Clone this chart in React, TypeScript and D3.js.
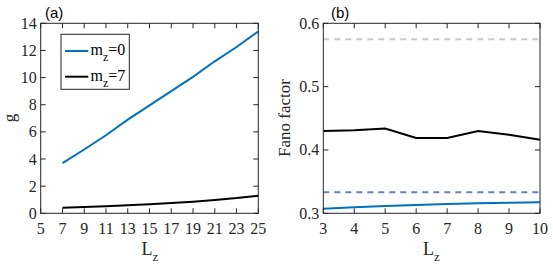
import React from "react";
import * as d3 from "d3";

const W = 553, H = 270;

// Panel (a)
const Lz_a = [7, 9, 11, 13, 15, 17, 19, 21, 23, 25];
const g_m0 = [3.7, 4.7, 5.75, 6.9, 7.95, 9.0, 10.05, 11.2, 12.25, 13.4];
const g_m7 = [0.4, 0.46, 0.52, 0.59, 0.67, 0.76, 0.86, 0.98, 1.12, 1.3];
const xTicksA = [5, 7, 9, 11, 13, 15, 17, 19, 21, 23, 25];
const yTicksA = [0, 2, 4, 6, 8, 10, 12, 14];

// Panel (b)
const Lz_b = [3, 4, 5, 6, 7, 8, 9, 10];
const fano_m7 = [0.430, 0.431, 0.434, 0.419, 0.419, 0.430, 0.424, 0.416];
const fano_m0 = [0.307, 0.3095, 0.3115, 0.313, 0.3145, 0.3157, 0.3167, 0.3175];
const refGray = 0.575;
const refBlue = 1 / 3;
const xTicksB = [3, 4, 5, 6, 7, 8, 9, 10];
const yTicksB = [0.3, 0.4, 0.5, 0.6];

const AX = "#262626";
const BLUE = "#0072BD";
const SERIF = "'Liberation Serif', 'Times New Roman', serif";
const SANS = "'Liberation Sans', Arial, sans-serif";
const TL = 5;

function Frame({ x, y, xTicks, yTicks, xFmt, yFmt }: any) {
  const [x0, x1] = x.range();
  const [y0, y1] = y.range();
  return (
    <g>
      <rect x={x0} y={y1} width={x1 - x0} height={y0 - y1} fill="none" stroke={AX} strokeWidth={1} />
      {xTicks.map((t: number) => (
        <g key={"x" + t}>
          <line x1={x(t)} x2={x(t)} y1={y0} y2={y0 - TL} stroke={AX} />
          <line x1={x(t)} x2={x(t)} y1={y1} y2={y1 + TL} stroke={AX} />
          <text x={x(t)} y={y0 + 21} textAnchor="middle" fontFamily={SERIF} fontSize={16} fill={AX}>
            {xFmt(t)}
          </text>
        </g>
      ))}
      {yTicks.map((t: number) => (
        <g key={"y" + t}>
          <line x1={x0} x2={x0 + TL} y1={y(t)} y2={y(t)} stroke={AX} />
          <line x1={x1} x2={x1 - TL} y1={y(t)} y2={y(t)} stroke={AX} />
          <text x={x0 - 4} y={y(t) + 5.5} textAnchor="end" fontFamily={SERIF} fontSize={16} fill={AX}>
            {yFmt(t)}
          </text>
        </g>
      ))}
    </g>
  );
}

export default function App() {
  const xa = d3.scaleLinear().domain([5, 25]).range([40.7, 258.3]);
  const ya = d3.scaleLinear().domain([0, 14]).range([213.3, 23.3]);
  const xb = d3.scaleLinear().domain([3, 10]).range([323.3, 540]);
  const yb = d3.scaleLinear().domain([0.3, 0.6]).range([213.3, 23.3]);

  const lineA = (ys: number[]) =>
    d3.line<number>().x((_, i) => xa(Lz_a[i])).y((v) => ya(v))(ys) as string;
  const lineB = (ys: number[]) =>
    d3.line<number>().x((_, i) => xb(Lz_b[i])).y((v) => yb(v))(ys) as string;

  return (
    <svg width={W} height={H} style={{ position: "absolute", left: 0, top: 0, background: "#fff" }}>
      {/* Panel a */}
      <path d={lineA(g_m0)} fill="none" stroke={BLUE} strokeWidth={2} />
      <path d={lineA(g_m7)} fill="none" stroke="#000" strokeWidth={2} />
      <Frame x={xa} y={ya} xTicks={xTicksA} yTicks={yTicksA} xFmt={(t: number) => String(t)} yFmt={(t: number) => String(t)} />
      <text x={45} y={18} fontFamily={SANS} fontSize={15} fill="#000">(a)</text>
      <text transform="translate(15,118) rotate(-90)" textAnchor="middle" fontFamily={SERIF} fontSize={17} fill={AX}>g</text>
      <text x={150} y={255} textAnchor="middle" fontFamily={SERIF} fontSize={18} fill={AX}>
        L<tspan fontSize={13} dy={6}>z</tspan>
      </text>
      {/* Legend */}
      <rect x={61} y={34.3} width={68.3} height={55} fill="#fff" stroke={AX} strokeWidth={1} />
      <line x1={65} x2={88.3} y1={51} y2={51} stroke={BLUE} strokeWidth={2} />
      <line x1={65} x2={88.3} y1={76.7} y2={76.7} stroke="#000" strokeWidth={2} />
      <text x={90.5} y={55} fontFamily={SERIF} fontSize={16} fill="#000">
        m<tspan fontSize={12} dy={6}>z</tspan><tspan dy={-6}>=0</tspan>
      </text>
      <text x={90.5} y={81} fontFamily={SERIF} fontSize={16} fill="#000">
        m<tspan fontSize={12} dy={6}>z</tspan><tspan dy={-6}>=7</tspan>
      </text>

      {/* Panel b */}
      <line x1={xb(3)} x2={xb(10)} y1={yb(refGray)} y2={yb(refGray)} stroke="#c8c8c8" strokeWidth={2} strokeDasharray="6,5" />
      <line x1={xb(3)} x2={xb(10)} y1={yb(refBlue)} y2={yb(refBlue)} stroke="#6b7fb0" strokeWidth={2} strokeDasharray="6,5" />
      <path d={lineB(fano_m7)} fill="none" stroke="#000" strokeWidth={2} />
      <path d={lineB(fano_m0)} fill="none" stroke={BLUE} strokeWidth={2} />
      <Frame x={xb} y={yb} xTicks={xTicksB} yTicks={yTicksB} xFmt={(t: number) => String(t)} yFmt={(t: number) => t.toFixed(1)} />
      <text x={331} y={18} fontFamily={SANS} fontSize={15} fill="#000">(b)</text>
      <text transform="translate(290,118) rotate(-90)" textAnchor="middle" fontFamily={SERIF} fontSize={17} fill={AX}>Fano factor</text>
      <text x={431.5} y={255} textAnchor="middle" fontFamily={SERIF} fontSize={18} fill={AX}>
        L<tspan fontSize={13} dy={6}>z</tspan>
      </text>
    </svg>
  );
}
